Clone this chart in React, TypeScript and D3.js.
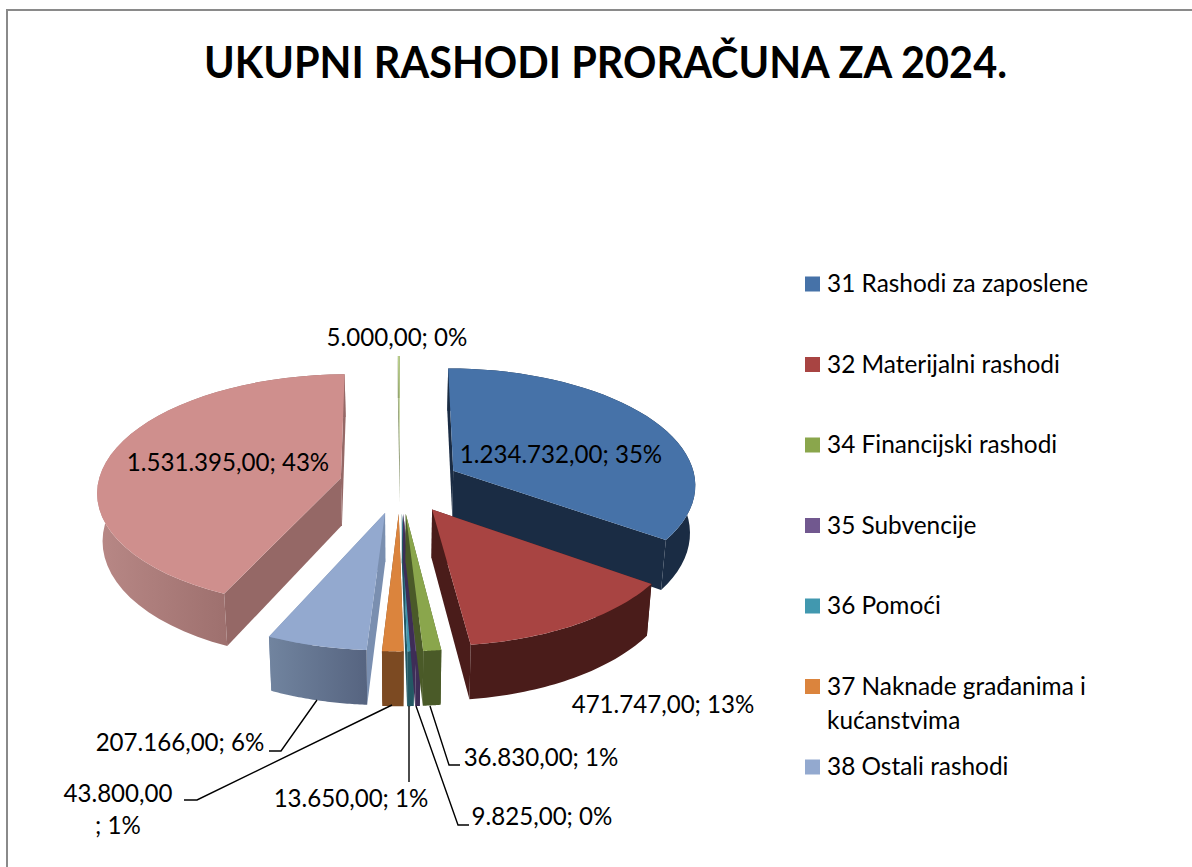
import React from 'react';
import * as d3 from 'd3';

// iznosi po kategorijama, redoslijed kao u grafu (kreće od vrha, u smjeru kazaljke)
const values = [1234732, 471747, 36830, 9825, 13650, 43800, 207166, 1531395, 5000];
const percents = ['35%', '13%', '1%', '0%', '1%', '1%', '6%', '43%', '0%'];
const legendNames = [
  ['31 Rashodi za zaposlene'],
  ['32 Materijalni rashodi'],
  ['34 Financijski rashodi'],
  ['35 Subvencije'],
  ['36 Pomoći'],
  ['37 Naknade građanima i', 'kućanstvima'],
  ['38 Ostali rashodi'],
];
const topColors = ['#4672a8', '#a84442', '#8aa64c', '#71588f', '#4198af', '#db843d', '#93a9cf', '#cf8f8d', '#b9ce8a'];
const wallColors = ['#1a2c44', '#4a1c1a', '#4a5a28', '#3e2d57', '#235864', '#7c4a22', '#7a8fb0', '#956866', '#7d8a5e'];
const paintOrder = [8, 7, 0, 6, 5, 4, 3, 2, 1];

const W = 1192;
const H = 867;
const cx = 400;
const cy = 484;
const rx = 243;
const ry = 116;
const persp = 0.107;
const explode = 0.25;
const depth = 47.5;
const bottomScale = 0.982;
const font = 'Lato, "Noto Sans", sans-serif';

const numFmt = d3.formatLocale({decimal: ',', thousands: '.', grouping: [3], currency: ['', '']}).format(',.2f');
const labelOf = (i: number) => `${numFmt(values[i])}; ${percents[i]}`;

const arcs = d3.pie<number>().sort(null).startAngle(0).endAngle(2 * Math.PI)(values);
const line = d3.line();

// projekcija točke s ploče kruga na ekran, s blagom perspektivom
function project(X: number, V: number, bottom = false): [number, number] {
  const k = 1 / (1 - persp * V);
  const s = bottom ? bottomScale : 1;
  return [cx + rx * X * k * s, cy + ry * V * k + (bottom ? depth * k : 0)];
}

function slicePaths(i: number) {
  const {startAngle, endAngle} = arcs[i];
  const mid = (startAngle + endAngle) / 2;
  const X0 = explode * Math.sin(mid);
  const V0 = -explode * Math.cos(mid);
  const steps = d3.range(0, 41).map(t => startAngle + (endAngle - startAngle) * t / 40);
  const rim = (bottom: boolean) => steps.map(a => project(X0 + Math.sin(a), V0 - Math.cos(a), bottom));
  const apexTop = project(X0, V0);
  const apexBottom = project(X0, V0, true);
  const rimTop = rim(false);
  const rimBottom = rim(true);
  const last = rimTop.length - 1;
  return {
    top: line([apexTop, ...rimTop]) + 'Z',
    outer: line([...rimTop, ...[...rimBottom].reverse()]) + 'Z',
    wallStart: line([apexTop, rimTop[0], rimBottom[0], apexBottom]) + 'Z',
    wallEnd: line([apexTop, rimTop[last], rimBottom[last], apexBottom]) + 'Z',
  };
}

const leaders: [number, number][][] = [
  [[317, 700], [281, 751], [269, 751]],
  [[392, 705], [197, 800], [184, 800]],
  [[409, 706], [409, 782]],
  [[416, 706], [458, 825], [469, 825]],
  [[430, 706], [449, 765], [460, 765]],
];

const sliceLabels = [
  {i: 8, x: 397, y: 346},
  {i: 7, x: 228, y: 471},
  {i: 0, x: 561, y: 463},
  {i: 1, x: 663, y: 713},
  {i: 6, x: 180, y: 751},
  {i: 4, x: 351, y: 807},
  {i: 3, x: 542, y: 825},
  {i: 2, x: 541, y: 766},
];

export default function App() {
  return (
    <svg width={W} height={H} style={{position: 'absolute', left: 0, top: 0, background: '#fff'}} fontFamily={font}>
      <defs>
        <linearGradient id="pinkWall" x1="0" x2="1" y1="0" y2="0">
          <stop offset="0" stopColor="#b88886" />
          <stop offset="0.7" stopColor="#956866" />
          <stop offset="1" stopColor="#956866" />
        </linearGradient>
        <linearGradient id="blueWall" x1="0" x2="1" y1="0" y2="0">
          <stop offset="0" stopColor="#71849f" />
          <stop offset="1" stopColor="#566480" />
        </linearGradient>
      </defs>
      <path d="M7,867V10H1192" fill="none" stroke="#8a8a8a" strokeWidth={2} />
      <text x={605.5} y={78} textAnchor="middle" fontSize={43} fontWeight={700} fill="#000" textLength={803} lengthAdjust="spacingAndGlyphs">UKUPNI RASHODI PRORAČUNA ZA 2024.</text>

      {paintOrder.map(i => {
        const p = slicePaths(i);
        const outerFill = i === 7 ? 'url(#pinkWall)' : i === 6 ? 'url(#blueWall)' : wallColors[i];
        return (
          <g key={i}>
            <path d={p.wallStart} fill={wallColors[i]} />
            <path d={p.wallEnd} fill={wallColors[i]} />
            <path d={p.outer} fill={outerFill} />
            <path d={p.top} fill={topColors[i]} />
          </g>
        );
      })}

      {leaders.map((pts, i) => (
        <path key={i} d={line(pts) as string} fill="none" stroke="#000" strokeWidth={1.4} />
      ))}

      <g fontSize={24.1} fill="#000" textAnchor="middle">
        {sliceLabels.map(l => (
          <text key={l.i} x={l.x} y={l.y}>{labelOf(l.i)}</text>
        ))}
        <text x={118} y={802}>{numFmt(values[5])}</text>
        <text x={118} y={834}>{`; ${percents[5]}`}</text>
      </g>

      <g fontSize={24.4} fill="#000">
        {legendNames.map((lines, i) => {
          const y = 276.5 + i * 80.5;
          return (
            <g key={i}>
              <rect x={805} y={y} width={15} height={15} fill={topColors[i]} />
              {lines.map((t, j) => (
                <text key={j} x={827} y={y + 15.5 + j * 34}>{t}</text>
              ))}
            </g>
          );
        })}
      </g>
    </svg>
  );
}
